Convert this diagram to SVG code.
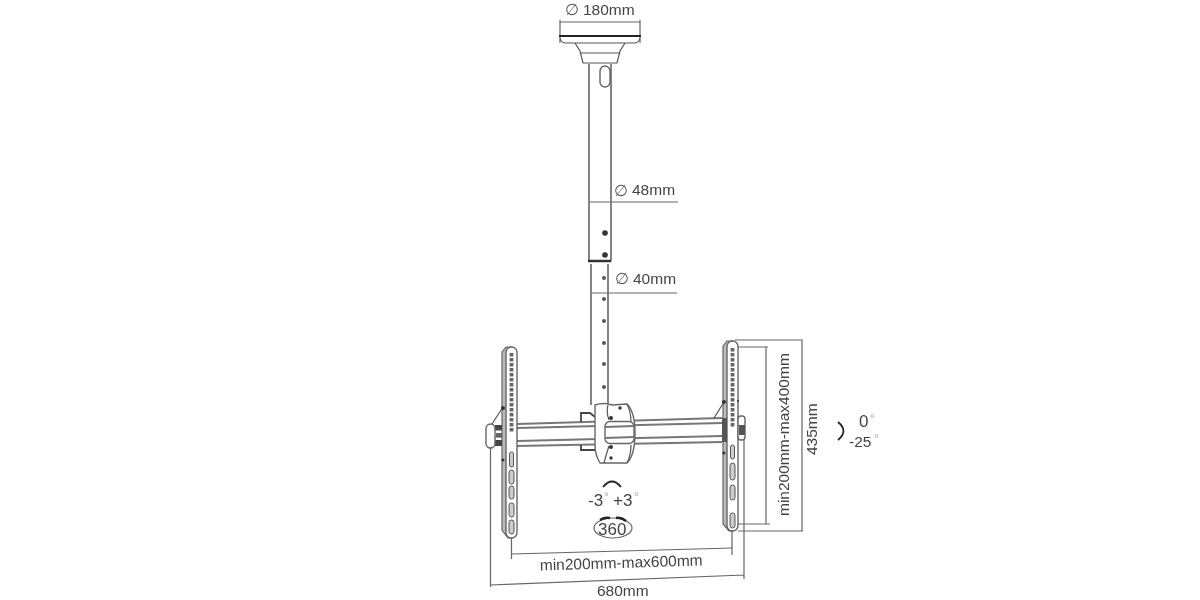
<svg xmlns="http://www.w3.org/2000/svg" width="1200" height="600" viewBox="0 0 1200 600">
<defs>
<style>
.l{fill:none;stroke:#555;stroke-width:1.2}
.t{fill:none;stroke:#777;stroke-width:1.8}
.d{fill:none;stroke:#666;stroke-width:1.2}
.p{fill:#fff;stroke:#666;stroke-width:1.4}
.b{fill:#bbb;stroke:#666;stroke-width:1.2}
.k{fill:#333;stroke:none}
.h{fill:#555;stroke:none}
.a{fill:none;stroke:#222;stroke-width:1.8}
.w{fill:none;stroke:#222;stroke-width:2.4}
.s{fill:#ccc;stroke:#555;stroke-width:1}
.v{fill:none;stroke:#666;stroke-width:3.800;stroke-dasharray:3.500 1.500}
text{font-family:"Liberation Sans",Arial,sans-serif;font-size:15.5px;fill:#444}
.o{font-family:"DejaVu Sans",sans-serif;font-size:16px;fill:#555}
.g{font-size:12px;fill:#aaa}
.n{font-size:17px}
</style>
<filter id="b" x="-5%" y="-5%" width="110%" height="110%"><feGaussianBlur stdDeviation="0.35"/></filter>
</defs>
<rect width="1200" height="600" fill="#fff"/>
<g filter="url(#b)">
<g id="connectors">
<path class="d" d="M560 20V43M640 20V43M560 22H640"/>
<path class="d" d="M589 202H678M591 293H677"/>
<path class="d" d="M735 340H802V531M738 347H768M766 347V524M738 524H770M738 531H803"/>
<path class="d" d="M511.500 538V559M732 530V555M511.500 554L733 548"/>
<path class="d" d="M490.500 448V587M744 440V579M490.500 585L744 575"/>
</g>
<g id="ceiling-plate">
<path class="l" d="M560 38Q561 43 566 43H634Q639 43 640 38"/>
<path d="M559 36H641" stroke="#222" stroke-width="2.200" fill="none"/>
<path class="l" d="M575 43L580 51L583 63H617L620 51L625 43M580 53H620"/>
</g>
<g id="upper-pole">
<path class="t" d="M589 64V261M611 64V261"/>
<rect class="p" x="600" y="66" width="10" height="21" rx="5"/>
<circle class="k" cx="605" cy="233" r="2.800"/>
<circle class="k" cx="605" cy="255" r="2.800"/>
<path d="M588 261H611" stroke="#333" stroke-width="2.500"/>
</g>
<g id="lower-pole">
<path class="t" d="M591 264V405M608 264V405"/>
<circle class="h" cx="604" cy="278" r="2"/>
<circle class="h" cx="604" cy="299" r="2"/>
<circle class="h" cx="604" cy="321" r="2"/>
<circle class="h" cx="604" cy="343" r="2"/>
<circle class="h" cx="604" cy="364" r="2"/>
<circle class="h" cx="604" cy="387" r="2"/>
</g>
<g id="cross-arm">
<path class="t" d="M517 424L722 418M517 428L722 423M517 441L722 436M517 446L722 442"/>
</g>
<g id="clamp">
<path d="M581 422V413H590L595 417M581 445V450H590L595 450" fill="none" stroke="#444" stroke-width="1.800"/>
<path class="p" d="M595 405Q604 402 612 405L627 404Q635 412 635 433Q635 455 627 463H600Q595 455 595 445V422Z"/>
<path class="l" d="M608 405Q606 412 609 420M609 446Q606 455 604 463M627 404Q631 412 631 422M631 445Q631 455 627 463"/>
<rect class="p" x="605" y="421.500" width="29" height="22" rx="5"/>
<path class="t" d="M605 427L634 426M605 438L634 437"/>
<circle class="k" cx="620" cy="408" r="1.700"/>
<circle class="k" cx="611" cy="418" r="2"/>
<circle class="k" cx="611" cy="447" r="2"/>
<circle class="k" cx="611" cy="458" r="1.700"/>
</g>
<g id="left-plate">
<path class="b" d="M502 352V530L508 538H512V347H506Z"/>
<rect class="p" x="506" y="347" width="11" height="191" rx="5.500"/>
<path class="v" d="M511.500 353V433"/>
<rect class="s" x="509.500" y="452" width="4" height="15" rx="2"/>
<rect class="s" x="509" y="470" width="5" height="14" rx="2.500"/>
<rect class="s" x="509" y="486" width="5" height="13" rx="2.500"/>
<rect class="s" x="509" y="503" width="5" height="14" rx="2.500"/>
<rect class="s" x="509" y="520" width="5" height="14" rx="2.500"/>
<path class="l" d="M503 407L492 424"/>
<circle class="k" cx="503" cy="408" r="2"/>
<circle class="k" cx="503" cy="460" r="1.500"/>
<rect x="495" y="425" width="7" height="5" fill="#444"/>
<rect x="496" y="433" width="6" height="4" fill="#666"/>
<rect x="495" y="440" width="7" height="6" fill="#444"/>
<path class="l" d="M495 430H502M495 437H502"/>
<rect class="p" x="486" y="424" width="9" height="24" rx="4.500"/>
</g>
<g id="right-plate">
<path class="b" d="M723 346V524L729 531H733V341H727Z"/>
<rect class="p" x="727" y="341" width="11" height="190" rx="5.500"/>
<path class="v" d="M732.500 348V428"/>
<rect class="s" x="730.500" y="445" width="4" height="14" rx="2"/>
<rect class="s" x="730" y="463" width="5" height="17" rx="2.500"/>
<rect class="s" x="730" y="485" width="5" height="15" rx="2.500"/>
<rect class="s" x="730" y="513" width="5" height="15" rx="2.500"/>
<path class="l" d="M724 402L714 418"/>
<circle class="k" cx="724" cy="402" r="2"/>
<circle class="k" cx="738" cy="401" r="1"/>
<circle class="k" cx="724" cy="453" r="1.500"/>
<rect class="p" x="738" y="416" width="7" height="24" rx="3"/>
<rect x="739" y="425" width="6" height="10" fill="#555"/>
<rect x="722" y="418" width="5" height="24" fill="#555"/>
</g>
<g id="rotation-marks">
<path class="a" d="M603 487Q612 476 621 487"/>
<path class="a" d="M838 422Q849 431 838 440"/>
<ellipse class="d" cx="613" cy="528" rx="19" ry="10"/>
<path class="w" d="M600 520Q605 517 610 518M616 518Q621 517 626 521"/>
</g>
<g id="labels">
<text class="o" x="565" y="15">∅</text><text x="583" y="15">180mm</text>
<text class="o" x="614" y="196">∅</text><text x="632" y="195">48mm</text>
<text class="o" x="615" y="284">∅</text><text x="633" y="284">40mm</text>
<text transform="translate(789 516) rotate(-90)">min200mm-max400mm</text>
<text transform="translate(817 455) rotate(-90)">435mm</text>
<text class="n" x="859" y="427">0</text><text class="g" x="870" y="423">°</text>
<text x="849" y="447">-25</text><text class="g" x="874" y="443">°</text>
<text class="n" x="588" y="506">-3</text><text class="g" x="604" y="501">°</text>
<text class="n" x="613" y="506">+3</text><text class="g" x="634" y="501">°</text>
<text class="n" x="598" y="535">360</text>
<text transform="translate(540 570.500) rotate(-1.800)">min200mm-max600mm</text>
<text x="597" y="596">680mm</text>
</g>
</g>
</svg>
